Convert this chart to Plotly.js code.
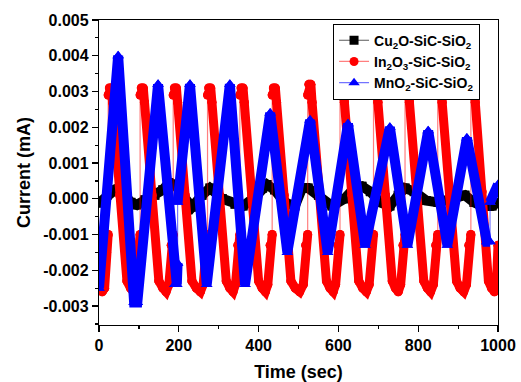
<!DOCTYPE html>
<html>
<head>
<meta charset="utf-8">
<script src="https://cdn.plot.ly/plotly-3.0.1.min.js"></script>
<style>html,body{margin:0;padding:0;background:#fff;}#chart{width:521px;height:382px;}</style>
</head>
<body>
<div id="chart"></div>
<script>
// ---- Data (time in sec, current in mA) ----
var seriesNames = ["Cu<sub>2</sub>O-SiC-SiO<sub>2</sub>", "In<sub>2</sub>O<sub>3</sub>-SiC-SiO<sub>2</sub>", "MnO<sub>2</sub>-SiC-SiO<sub>2</sub>"];

var cuTime = [0, 20, 40, 60, 80, 95, 115, 140, 160, 175, 190, 210, 233, 258, 278, 309, 341, 361, 391, 410, 421, 440, 465, 491, 509, 524, 550, 584, 615, 640, 659, 680, 705, 729, 750, 767, 790, 820, 850, 880, 917, 940, 960, 985, 1000];
var cuCurrent = [-0.00012, 0.0001, 0.00025, 0.00015, -0.0001, -0.00017, -0.00003, 0.0001, 0.00025, 0.00045, 0.0004, 0.0001, -0.00023, 0.0001, 0.0003, 0.0, -0.00015, -0.0002, 0.00005, 0.0003, 0.0004, 0.00025, -0.0001, -0.0002, 0.0003, 0.0003, 0.0001, -0.0002, 0.0, 0.0003, 0.00035, 0.0002, -0.0001, -0.0002, 0.0001, 0.0003, 0.0002, -0.00005, -0.0001, 0.0, 0.0001, -0.0001, -0.0002, -0.0002, -0.0001];

var inTime = [0, 8, 14, 19,
  23, 23, 26, 31, 34, 52, 70, 79, 86, 92, 98,
  103, 103, 106, 111, 114, 133, 150, 160, 168, 175, 181,
  186, 186, 189, 194, 197, 216, 233, 244, 254, 261, 267,
  272, 272, 275, 280, 283, 302, 319, 328, 336, 342, 348,
  353, 353, 356, 361, 364, 383, 400, 409, 417, 423, 429,
  434, 434, 437, 442, 445, 464, 481, 492, 503, 512, 518,
  523, 523, 526, 531, 534, 553, 570, 579, 587, 593, 599,
  604, 604, 607, 612, 615, 634, 651, 661, 670, 677, 683,
  688, 688, 691, 696, 699, 718, 735, 743, 750, 756, 762,
  767, 767, 770, 775, 778, 797, 814, 823, 831, 838, 844,
  849, 849, 852, 857, 860, 879, 896, 905, 914, 921, 927,
  932, 932, 935, 940, 943, 960, 976, 984, 991, 996, 1000];
var inCurrent = [-0.0024, -0.0026, -0.0025, -0.0015,
  -0.0010, 0.0029, 0.0031, 0.0031, 0.0027, 0.0001, -0.0023, -0.0025, -0.0026, -0.0024, -0.0013,
  -0.0010, 0.0029, 0.0031, 0.0031, 0.0027, 0.0001, -0.0023, -0.0025, -0.0026, -0.0024, -0.0013,
  -0.0010, 0.0029, 0.0031, 0.0031, 0.0027, 0.0001, -0.0023, -0.0025, -0.0026, -0.0024, -0.0013,
  -0.0010, 0.0029, 0.0031, 0.0031, 0.0027, 0.0001, -0.0023, -0.0025, -0.0026, -0.0024, -0.0013,
  -0.0010, 0.0029, 0.0031, 0.0031, 0.0027, 0.0001, -0.0023, -0.0025, -0.0026, -0.0024, -0.0013,
  -0.0010, 0.0029, 0.0031, 0.0031, 0.0027, 0.0001, -0.0023, -0.0025, -0.0026, -0.0024, -0.0013,
  -0.0010, 0.0029, 0.0032, 0.0032, 0.0027, 0.0001, -0.0023, -0.0025, -0.0026, -0.0024, -0.0013,
  -0.0010, 0.0029, 0.0031, 0.0031, 0.0027, 0.0001, -0.0023, -0.0025, -0.0026, -0.0024, -0.0013,
  -0.0010, 0.0029, 0.0031, 0.0031, 0.0027, 0.0001, -0.0023, -0.0025, -0.0026, -0.0024, -0.0013,
  -0.0010, 0.0029, 0.0031, 0.0031, 0.0027, 0.0001, -0.0023, -0.0025, -0.0026, -0.0024, -0.0013,
  -0.0010, 0.0029, 0.0031, 0.0031, 0.0027, 0.0001, -0.0023, -0.0025, -0.0026, -0.0024, -0.0013,
  -0.0010, 0.0029, 0.0031, 0.0031, 0.0027, 0.0002, -0.0023, -0.0025, -0.0026, -0.0024, -0.0013];

var mnTime = [0, 48, 88, 96, 148, 190, 195, 197, 197, 228, 270, 328, 366, 429, 472, 529, 573, 624, 667, 729, 773, 825, 873, 922, 972, 980, 980, 1000];
var mnCurrent = [-0.0025, 0.0040, -0.0029, -0.0029, 0.0032, -0.0024, -0.0024, -0.0018, -0.0001, 0.0032, -0.0024, 0.0032, -0.0024, 0.0024, -0.0015, 0.0022, -0.0015, 0.0021, -0.0013, 0.0020, -0.0013, 0.0019, -0.0013, 0.0017, -0.0012, -0.0012, -0.0001, 0.0004];

var xTickVals = [0, 200, 400, 600, 800, 1000];
var yTickVals = [-0.003, -0.002, -0.001, 0, 0.001, 0.002, 0.003, 0.004, 0.005];
var yTickText = ["-0.003", "-0.002", "-0.001", "0.000", "0.001", "0.002", "0.003", "0.004", "0.005"];

// ---- helpers: break the thick band at vertical jumps (only thin line there) ----
function withGaps(t, v) {
  var gx = [], gy = [];
  for (var i = 0; i < t.length; i++) {
    if (i > 0 && Math.abs(t[i] - t[i - 1]) < 0.5) { gx.push(null); gy.push(null); }
    gx.push(t[i]); gy.push(v[i]);
  }
  return {x: gx, y: gy};
}

var styles = [
  {color: "#000000", thin: "rgba(0,0,0,0.65)", symbol: "square", size: 9, band: 10},
  {color: "#ff0000", thin: "rgba(255,0,0,0.5)", symbol: "circle", size: 9, band: 9},
  {color: "#0000ff", thin: "rgba(0,0,255,0.55)", symbol: "triangle-up", size: 10, band: 10}
];
var allT = [cuTime, inTime, mnTime];
var allV = [cuCurrent, inCurrent, mnCurrent];

var traces = [];
for (var s = 0; s < 3; s++) {
  var st = styles[s];
  traces.push({
    x: allT[s], y: allV[s], name: seriesNames[s], type: "scatter", mode: "lines+markers",
    line: {color: st.thin, width: 1.2},
    marker: {color: st.color, symbol: st.symbol, size: st.size},
    showlegend: true, cliponaxis: true
  });
  var g = withGaps(allT[s], allV[s]);
  traces.push({
    x: g.x, y: g.y, type: "scatter", mode: "lines+markers", connectgaps: false,
    line: {color: st.color, width: st.band},
    marker: {color: st.color, symbol: st.symbol, size: st.size},
    showlegend: false, hoverinfo: "skip"
  });
}

var fontFam = "Liberation Sans, Arial, sans-serif";
var layout = {
  width: 521, height: 382,
  margin: {l: 99, r: 23, t: 20, b: 57},
  paper_bgcolor: "#ffffff", plot_bgcolor: "#ffffff",
  font: {family: fontFam, color: "#000"},
  showlegend: true,
  legend: {
    x: 0.955, xanchor: "right", y: 0.988, yanchor: "top",
    bgcolor: "#ffffff", bordercolor: "#000000", borderwidth: 1,
    font: {family: fontFam, size: 14, weight: "bold", color: "#000"},
    tracegroupgap: 0
  },
  xaxis: {
    range: [0, 1000], tickvals: xTickVals, ticks: "outside", ticklen: 6, tickwidth: 1.2, tickcolor: "#000",
    minor: {dtick: 100, tick0: 0, ticks: "outside", ticklen: 3, tickwidth: 1.2, tickcolor: "#000", showgrid: false},
    showline: true, linecolor: "#000", linewidth: 1.2, mirror: true,
    showgrid: false, zeroline: false,
    tickfont: {family: fontFam, size: 16, weight: "bold", color: "#000"},
    title: {text: "Time (sec)", font: {family: fontFam, size: 18, weight: "bold", color: "#000"}, standoff: 13}
  },
  yaxis: {
    range: [-0.00353, 0.005], tickvals: yTickVals, ticktext: yTickText, ticks: "outside", ticklen: 6, tickwidth: 1.2, tickcolor: "#000",
    minor: {dtick: 0.0005, tick0: 0, ticks: "outside", ticklen: 3, tickwidth: 1.2, tickcolor: "#000", showgrid: false},
    showline: true, linecolor: "#000", linewidth: 1.2, mirror: true,
    showgrid: false, zeroline: false,
    tickfont: {family: fontFam, size: 16, weight: "bold", color: "#000"},
    title: {text: "Current (mA)", font: {family: fontFam, size: 18, weight: "bold", color: "#000"}, standoff: 8}
  }
};

Plotly.newPlot("chart", traces, layout, {staticPlot: true, displayModeBar: false});
</script>
</body>
</html>
